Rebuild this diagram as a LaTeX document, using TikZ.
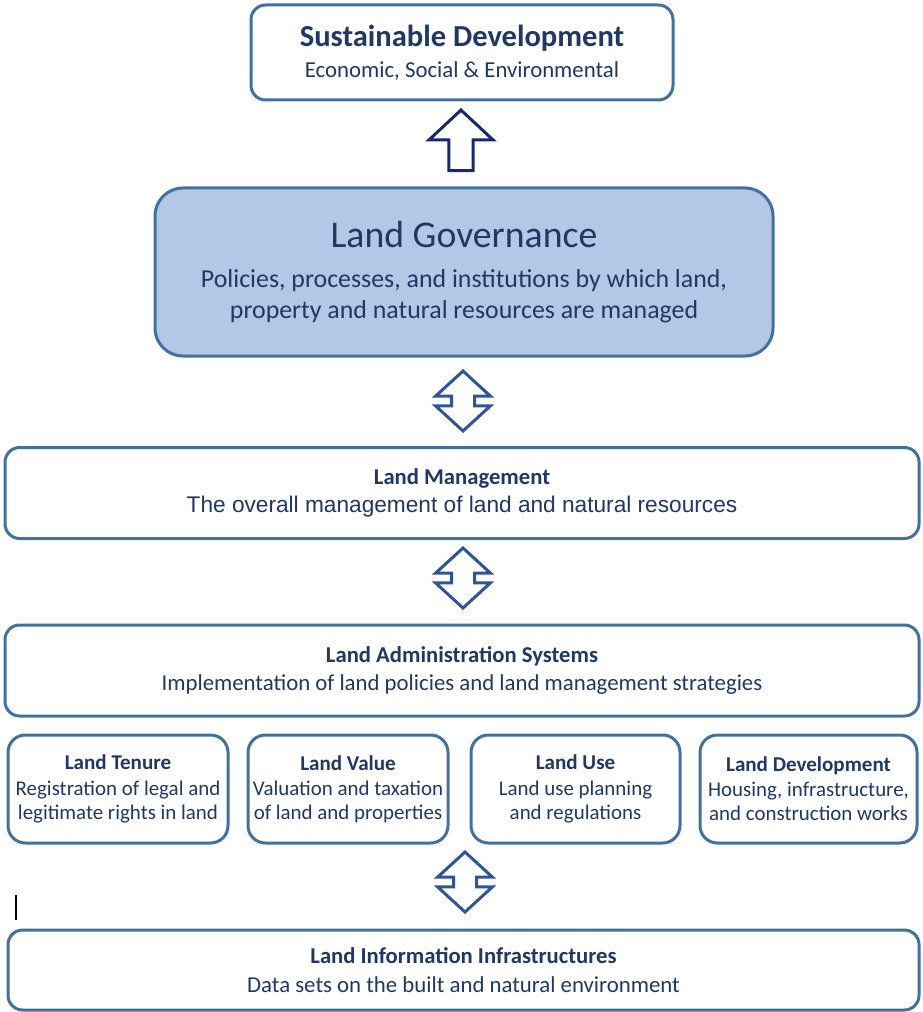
\documentclass[tikz,border=0pt]{standalone}
\usepackage{fontspec}
\setmainfont{Carlito}
\newfontfamily\arialfont{Liberation Sans}
\usetikzlibrary{shapes.arrows,positioning}
\definecolor{navy}{HTML}{1F3864}
\definecolor{boxline}{HTML}{41719C}
\definecolor{govfill}{HTML}{B4C7E7}
\definecolor{arrowblue}{HTML}{2F5597}
\definecolor{darknavy}{HTML}{17296B}
\tikzstyle{box}=[draw=boxline,line width=2.25pt,rounded corners=11pt,fill=white,text=navy,align=center,inner sep=0pt]
\tikzstyle{govbox}=[box,fill=govfill,rounded corners=21pt]
\tikzstyle{smallbox}=[box,rounded corners=13pt,minimum height=81pt,font=\fontsize{15.7}{18}\selectfont]
\tikzstyle{twoway}=[double arrow,draw=arrowblue,line width=2.25pt,fill=white,rotate=90,minimum height=45pt,double arrow head extend=12pt,double arrow tip angle=95,inner xsep=0pt,inner ysep=7.5pt]
\tikzstyle{oneway}=[single arrow,draw=darknavy,line width=2.25pt,fill=white,rotate=90,minimum height=45.5pt,single arrow head extend=15pt,single arrow tip angle=94,inner xsep=0pt,inner ysep=7.9pt]
\newcommand{\heading}[1]{{\fontsize{17}{20}\selectfont\bfseries #1}}

\begin{document}
\begin{tikzpicture}[x=0.75pt,y=-0.75pt]
  \useasboundingbox (0,0) rectangle (922,1012);

  % top of the stack
  \node (sd) [box,minimum width=316.5pt,minimum height=71.25pt,font=\fontsize{17.1}{23}\selectfont] at (462,52.5)
    {{\fontsize{22.9}{23}\selectfont\bfseries Sustainable Development}\\Economic, Social \& Environmental};
  \node (up) [oneway] at (461,146) {};

  \node (gov) [govbox,minimum width=463.5pt,minimum height=126pt,font=\fontsize{19.4}{23.25}\selectfont] at (464,272)
    {{\fontsize{28.3}{23.25}\selectfont Land Governance}\\[6.75pt]
     Policies, processes, and institutions by which land,\\property and natural resources are managed};
  \node (a1) [twoway] at (463,401) {};

  \node (lm) [box,minimum width=685.5pt,minimum height=68.25pt,font=\fontsize{17}{20.5}\selectfont] at (462,493)
    {\heading{Land Management}\\{\arialfont The overall management of land and natural resources}};
  \node (a2) [twoway] at (463,578) {};

  \node (las) [box,minimum width=685.5pt,minimum height=68.25pt,font=\fontsize{17.1}{21}\selectfont] at (462,670.5)
    {\heading{Land Administration Systems}\\Implementation of land policies and land management strategies};

  % the four functions
  \node (tenure) [smallbox,minimum width=165pt] at (118,789)
    {\heading{\fontsize{15.8}{18}\selectfont Land Tenure}\\[1pt]Registration of legal and\\legitimate rights in land};
  \node (value) [smallbox,minimum width=150pt] at (348,789)
    {\heading{\fontsize{15.8}{18}\selectfont Land Value}\\[1pt]Valuation and taxation\\of land and properties};
  \node (use) [smallbox,minimum width=156.75pt] at (575.5,789)
    {\heading{\fontsize{15.8}{18}\selectfont Land Use}\\[1pt]Land use planning\\and regulations};
  \node (dev) [smallbox,minimum width=162.75pt] at (808.5,789)
    {\heading{\fontsize{15.8}{18}\selectfont Land Development}\\[1pt]Housing, infrastructure,\\and construction works};
  \node (a3) [twoway] at (465,882) {};

  \node (lii) [box,minimum width=683.25pt,minimum height=60pt,font=\fontsize{17.1}{21.75}\selectfont] at (463.5,970)
    {\heading{Land Information Infrastructures}\\Data sets on the built and natural environment};

  % stray text cursor
  \coordinate (c1) at (16,895);
  \coordinate (c2) at (16,920);
  \draw[line width=0.9pt] (c1) -- (c2);
\end{tikzpicture}
\end{document}
